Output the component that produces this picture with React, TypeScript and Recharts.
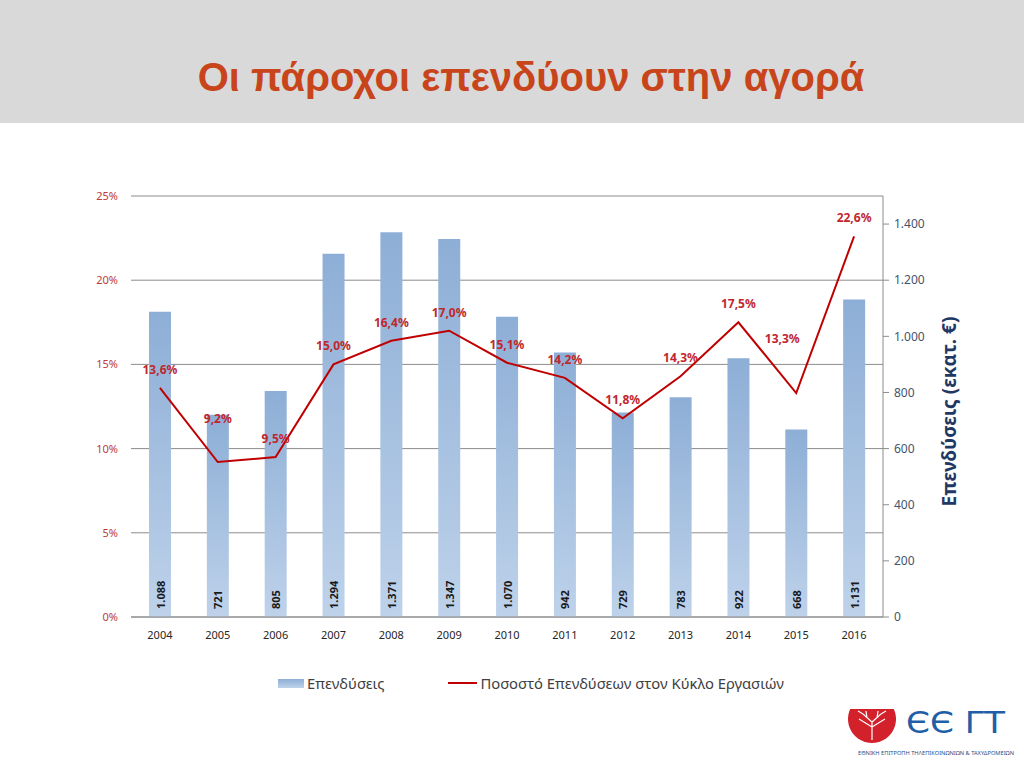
import React from "react";
import {
  ComposedChart,
  Bar,
  Line,
  XAxis,
  YAxis,
  CartesianGrid,
  LabelList,
} from "recharts";

const years = ["2004", "2005", "2006", "2007", "2008", "2009", "2010", "2011", "2012", "2013", "2014", "2015", "2016"];
// Επενδύσεις (εκατ. €)
const investments = [1088, 721, 805, 1294, 1371, 1347, 1070, 942, 729, 783, 922, 668, 1131];
// Ποσοστό Επενδύσεων στον Κύκλο Εργασιών (%)
const shares = [13.6, 9.2, 9.5, 15.0, 16.4, 17.0, 15.1, 14.2, 11.8, 14.3, 17.5, 13.3, 22.6];
const pctTicks = [0, 5, 10, 15, 20, 25];
const eurTicks = [0, 200, 400, 600, 800, 1000, 1200, 1400];

const data = years.map((year, i) => ({
  year,
  inv: investments[i],
  share: shares[i],
}));

// small label nudges where the original places them off the default spot
const labelNudge: Record<number, { dx: number; dy: number }> = {
  1: { dx: 0, dy: -25 },
  11: { dx: -14, dy: -36 },
};

const FONT = "'Noto Sans', 'Open Sans', sans-serif";
const GRID = "#8c8c8c";

const fmtThousands = (v: number) =>
  String(v).replace(/\B(?=(\d{3})+(?!\d))/g, ".");
const fmtPct = (v: number) => v.toFixed(1).replace(".", ",") + "%";

const BarValueLabel = (props: any) => {
  const { x, y, width, height, value } = props;
  const cx = Number(x) + Number(width) / 2;
  const by = Number(y) + Number(height) - 8;
  return (
    <text
      x={cx}
      y={by}
      transform={`rotate(-90, ${cx}, ${by})`}
      textAnchor="start"
      dominantBaseline="central"
      fontFamily={FONT}
      fontSize={11}
      fontWeight="bold"
      fill="#1a1a1a"
    >
      {fmtThousands(value)}
    </text>
  );
};

const ShareLabel = (props: any) => {
  const { x, y, value, index } = props;
  const n = labelNudge[index] || { dx: 0, dy: 0 };
  return (
    <text
      x={Number(x) + n.dx}
      y={Number(y) - 14 + n.dy}
      textAnchor="middle"
      fontFamily={FONT}
      fontSize={12}
      fontWeight="bold"
      fill="#c0272d"
    >
      {fmtPct(value)}
    </text>
  );
};

const RightAxisTitle = (props: any) => {
  const vb = props.viewBox || {};
  const x = Number(vb.x) + 66;
  const y = Number(vb.y) + Number(vb.height) / 2 + 5;
  return (
    <text
      x={x}
      y={y}
      transform={`rotate(-90, ${x}, ${y})`}
      textAnchor="middle"
      dominantBaseline="central"
      fontFamily={FONT}
      fontSize={19}
      fontWeight="bold"
      fill="#1f3864"
    >
      Επενδύσεις (εκατ. €)
    </text>
  );
};

const Logo = () => (
  <svg
    width={200}
    height={80}
    style={{ position: "absolute", left: 824, top: 688 }}
  >
    <path d="M 26.2 21 A 24 24 0 1 0 69.8 21 Z" fill="#d3212c" />
    <g stroke="#fff" strokeWidth={1.2} fill="none">
      <path d="M 48 52 L 48 34 L 39 26 M 48 34 L 57 26 M 48 39 L 35 31 M 48 39 L 61 31 M 43 30 L 42 23 M 53 30 L 54 23 M 39 26 L 34 23 M 57 26 L 62 23" />
    </g>
    <text
      x={82}
      y={45}
      fontFamily="'DejaVu Sans', sans-serif"
      fontSize={30}
      fill="#1f5fa8"
      textLength={99}
      lengthAdjust="spacingAndGlyphs"
    >
      ЄЄ ΓΤ
    </text>
    <text
      x={34}
      y={67}
      fontFamily={FONT}
      fontSize={6}
      fill="#1f4e8c"
      textLength={156}
      lengthAdjust="spacingAndGlyphs"
    >
      ΕΘΝΙΚΗ ΕΠΙΤΡΟΠΗ ΤΗΛΕΠΙΚΟΙΝΩΝΙΩΝ &amp; ΤΑΧΥΔΡΟΜΕΙΩΝ
    </text>
  </svg>
);

const App = () => {
  return (
    <div
      style={{
        position: "absolute",
        left: 0,
        top: 0,
        width: 1024,
        height: 768,
        background: "#fff",
        overflow: "hidden",
        fontFamily: FONT,
      }}
    >
      <div
        style={{
          position: "absolute",
          left: 0,
          top: 0,
          width: 1024,
          height: 123,
          background: "#d9d9d9",
        }}
      />
      <div
        style={{
          position: "absolute",
          left: 196,
          top: 53,
          width: 670,
          textAlign: "center",
          fontFamily: "'Liberation Sans', Arial, sans-serif",
          fontWeight: "bold",
          fontSize: 40,
          lineHeight: "48px",
          color: "#c8451b",
          whiteSpace: "nowrap",
        }}
      >
        Οι πάροχοι επενδύουν στην αγορά
      </div>

      <div style={{ position: "absolute", left: 0, top: 0 }}>
        <ComposedChart
          width={1024}
          height={700}
          data={data}
          margin={{ top: 196, right: 14, left: 0, bottom: 53 }}
        >
          <defs>
            <linearGradient id="barGrad" x1="0" y1="0" x2="0" y2="1">
              <stop offset="0%" stopColor="#8daed6" />
              <stop offset="100%" stopColor="#bed2ea" />
            </linearGradient>
          </defs>
          <CartesianGrid
            yAxisId="pct"
            vertical={false}
            stroke={GRID}
            strokeWidth={1}
          />
          <XAxis
            dataKey="year"
            height={30}
            axisLine={{ stroke: GRID }}
            tickLine={false}
            tickMargin={8}
            tick={{ fontSize: 11, fill: "#262626", fontFamily: FONT }}
            interval={0}
          />
          <YAxis
            yAxisId="pct"
            orientation="left"
            width={131}
            domain={[0, 25]}
            ticks={pctTicks}
            axisLine={false}
            tickLine={false}
            tickMargin={7}
            tickFormatter={(v: number) => `${v}%`}
            tick={{ fontSize: 11, fill: "#c0393b", fontFamily: FONT }}
          />
          <YAxis
            yAxisId="eur"
            orientation="right"
            width={127}
            domain={[0, 1500]}
            ticks={eurTicks}
            axisLine={{ stroke: GRID }}
            tickLine={{ stroke: GRID }}
            tickSize={6}
            tickMargin={5}
            tickFormatter={(v: number) => fmtThousands(v)}
            tick={{ fontSize: 12, fill: "#44546a", fontFamily: FONT }}
            label={{ content: RightAxisTitle }}
          />
          <Bar
            yAxisId="eur"
            dataKey="inv"
            name="Επενδύσεις"
            fill="url(#barGrad)"
            barSize={22}
            isAnimationActive={false}
          >
            <LabelList dataKey="inv" content={BarValueLabel} />
          </Bar>
          <Line
            yAxisId="pct"
            type="linear"
            dataKey="share"
            name="Ποσοστό Επενδύσεων στον Κύκλο Εργασιών"
            stroke="#c00000"
            strokeWidth={2}
            dot={false}
            activeDot={false}
            isAnimationActive={false}
          >
            <LabelList dataKey="share" content={ShareLabel} />
          </Line>
        </ComposedChart>
      </div>

      {/* legend */}
      <div
        style={{
          position: "absolute",
          left: 278,
          top: 674,
          height: 18,
          display: "flex",
          alignItems: "center",
          fontSize: 14.8,
          color: "#404040",
          whiteSpace: "nowrap",
        }}
      >
        <span
          style={{
            display: "inline-block",
            width: 26,
            height: 9,
            background: "linear-gradient(#8daed6, #bed2ea)",
            marginRight: 3,
          }}
        />
        <span>Επενδύσεις</span>
        <span
          style={{
            display: "inline-block",
            width: 29,
            height: 2,
            background: "#c00000",
            marginLeft: 64,
            marginRight: 3,
          }}
        />
        <span>Ποσοστό Επενδύσεων στον Κύκλο Εργασιών</span>
      </div>

      <Logo />
    </div>
  );
};

export default App;
